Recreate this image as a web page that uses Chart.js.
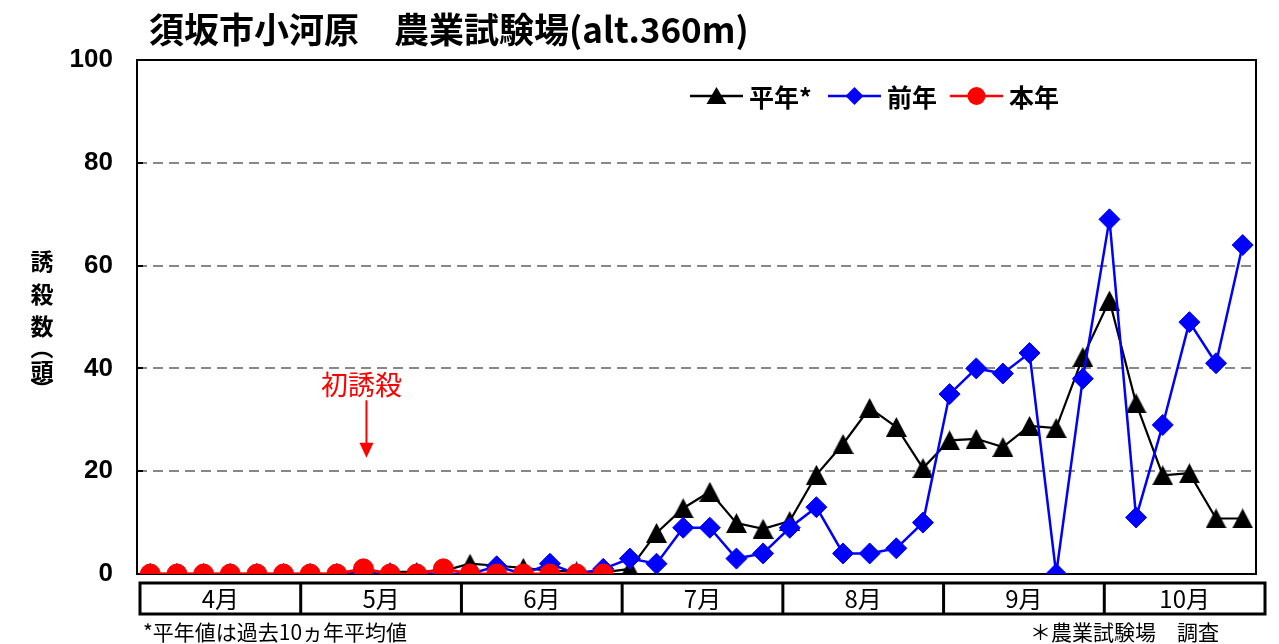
<!DOCTYPE html>
<html><head><meta charset="utf-8">
<script src="https://cdn.jsdelivr.net/npm/chart.js@4/dist/chart.umd.min.js"></script>
<style>html,body{margin:0;padding:0;background:#fff}#wrap{width:1279px;height:644px;position:relative}</style>
</head><body><div id="wrap"><canvas id="c"></canvas></div>
<script>
const titleText = '須坂市小河原　農業試験場(alt.360m)';
const yTitle = '誘殺数（頭）';
const months = ['4月','5月','6月','7月','8月','9月','10月'];
const categories = [
 '4月1半旬','4月2半旬','4月3半旬','4月4半旬','4月5半旬','4月6半旬',
 '5月1半旬','5月2半旬','5月3半旬','5月4半旬','5月5半旬','5月6半旬',
 '6月1半旬','6月2半旬','6月3半旬','6月4半旬','6月5半旬','6月6半旬',
 '7月1半旬','7月2半旬','7月3半旬','7月4半旬','7月5半旬','7月6半旬',
 '8月1半旬','8月2半旬','8月3半旬','8月4半旬','8月5半旬','8月6半旬',
 '9月1半旬','9月2半旬','9月3半旬','9月4半旬','9月5半旬','9月6半旬',
 '10月1半旬','10月2半旬','10月3半旬','10月4半旬','10月5半旬','10月6半旬'];
const yTicks = [0,20,40,60,80,100];
const seriesNames = ['平年*','前年','本年'];
const heinen = [0,0,0,0,0,0, 0,0,0.3,0.4,0.4,0.6, 2,1.6,1.2,0.6,0.5,0.3,
  1,8,12.8,16,9.9,8.8, 10.3,19.3,25.3,32.3,28.6,20.6,
  26,26.3,24.7,28.8,28.4,42.2, 53.2,33.2,19.2,19.6,10.8,10.8];
const zennen = [0,0,0,0,0,0, 0,0,0,0,0,0, 0,1.5,0,2,0,1,
  3,2,9,9,3,4, 9,13,4,4,5,10,
  35,40,39,43,0,38, 69,11,29,49,41,64];
const honnen = [0,0,0,0,0,0, 0,0,1,0,0,1, 0,0,0,0,0,0];
const firstCatchIndex = 8;
const firstCatchLabel = '初誘殺';
const footLeft = '*平年値は過去10ヵ年平均値';
const footRight = '＊農業試験場　調査';

const JP = '"Noto Sans CJK JP", "Noto Sans", sans-serif';

function triCanvas(w,h,color){
  const c=document.createElement('canvas'); c.width=w; c.height=h;
  const g=c.getContext('2d'); g.fillStyle=color; g.beginPath();
  g.moveTo(w/2,0); g.lineTo(w,h); g.lineTo(0,h); g.closePath(); g.fill(); return c;
}
const triImg = triCanvas(21,20,'#000');

const extras = {
  id:'extras',
  beforeDatasetsDraw(chart){
    const {ctx, chartArea:a, scales:{y}} = chart;
    ctx.save();
    ctx.strokeStyle='#000'; ctx.lineWidth=2;
    ctx.strokeRect(a.left, a.top, a.right-a.left, a.bottom-a.top);
    ctx.beginPath();
    yTicks.forEach(v=>{ const py=Math.round(y.getPixelForValue(v));
      ctx.moveTo(a.left, py); ctx.lineTo(a.left+6, py); });
    ctx.stroke();
    ctx.restore();
  },
  afterDraw(chart){
    const {ctx, chartArea:a, scales:{x,y}} = chart;
    ctx.save();
    // title
    ctx.fillStyle='#000'; ctx.textBaseline='middle'; ctx.textAlign='left';
    ctx.font='bold 35px '+JP;
    ctx.fillText(titleText, 149, 30);
    // y title vertical
    ctx.font='bold 23px '+JP; ctx.textAlign='center';
    const chars = Array.from(yTitle);
    const ys = [261,294,326,348,371,389];
    chars.forEach((ch,i)=>{
      if (ch==='（'||ch==='）'){
        ctx.save(); ctx.translate(42, ys[i]); ctx.rotate(Math.PI/2);
        ctx.fillText(ch,0,0); ctx.restore();
      } else ctx.fillText(ch, 42, ys[i]);
    });
    // legend
    const legY = 96;
    const items = [
      {x:690, color:'#000', shape:'tri', text:seriesNames[0]},
      {x:828, color:'#0000ff', shape:'dia', text:seriesNames[1]},
      {x:950, color:'#ff0000', shape:'cir', text:seriesNames[2]}];
    ctx.font='bold 25px '+JP; ctx.textAlign='left';
    items.forEach(it=>{
      ctx.strokeStyle=it.color; ctx.fillStyle=it.color; ctx.lineWidth=2.5;
      ctx.beginPath(); ctx.moveTo(it.x, legY); ctx.lineTo(it.x+53, legY); ctx.stroke();
      const cx = it.x+26.5;
      ctx.beginPath();
      if(it.shape==='tri'){ ctx.moveTo(cx,legY-9); ctx.lineTo(cx+10,legY+8); ctx.lineTo(cx-10,legY+8); }
      else if(it.shape==='dia'){ ctx.moveTo(cx,legY-9); ctx.lineTo(cx+9,legY); ctx.lineTo(cx,legY+9); ctx.lineTo(cx-9,legY); }
      else { ctx.arc(cx,legY,9,0,Math.PI*2); }
      ctx.closePath(); ctx.fill();
      ctx.fillStyle='#000'; ctx.fillText(it.text, it.x+59, legY+1);
    });
    // first catch annotation
    const px = x.getPixelForValue(firstCatchIndex);
    ctx.fillStyle='#ff0000'; ctx.strokeStyle='#ff0000';
    ctx.font='27px '+JP; ctx.textAlign='center';
    ctx.fillText(firstCatchLabel, px-2, y.getPixelForValue(36.9));
    const ax = px+3, aTop=y.getPixelForValue(33.8), aTip=y.getPixelForValue(22.6);
    ctx.lineWidth=2; ctx.beginPath(); ctx.moveTo(ax,aTop); ctx.lineTo(ax,aTip-10); ctx.stroke();
    ctx.beginPath(); ctx.moveTo(ax-7,aTip-15); ctx.lineTo(ax+7,aTip-15); ctx.lineTo(ax,aTip); ctx.closePath(); ctx.fill();
    // month table
    const TL = a.left+3, TR = a.right+9, TT=583, TB=614;
    const map = p => TL + (p - a.left)*(TR-TL)/(a.right-a.left);
    const step = x.getPixelForValue(1)-x.getPixelForValue(0);
    ctx.strokeStyle='#000'; ctx.lineWidth=3;
    ctx.strokeRect(TL, TT, TR-TL, TB-TT);
    ctx.fillStyle='#000'; ctx.font='24px '+JP; ctx.textAlign='center';
    months.forEach((m,i)=>{
      const l = map(x.getPixelForValue(i*6)-step/2);
      const r = map(x.getPixelForValue(i*6+5)+step/2);
      if(i>0){ ctx.beginPath(); ctx.moveTo(l,TT); ctx.lineTo(l,TB); ctx.stroke(); }
      ctx.fillText(m, (l+r)/2, 599);
    });
    // footnotes
    ctx.font='21px '+JP; ctx.textAlign='left';
    ctx.fillText(footLeft, 143, 632);
    ctx.fillText(footRight, 1030, 632);
    ctx.restore();
  }
};

new Chart(document.getElementById('c'), {
  type:'line',
  data:{ labels: categories, datasets:[
    {label:seriesNames[2], data:honnen, borderColor:'#ff0000', backgroundColor:'#ff0000',
     borderWidth:3, pointStyle:'circle', pointRadius:10, pointBorderWidth:1, order:0},
    {label:seriesNames[1], data:zennen, borderColor:'#0000ff', backgroundColor:'#0000ff',
     borderWidth:2.5, pointStyle:'rectRot', pointRadius:10.5, pointBorderWidth:1, order:1},
    {label:seriesNames[0], data:heinen, borderColor:'#000', backgroundColor:'#000',
     borderWidth:2.2, pointStyle:triImg, pointRadius:11, order:2}
  ]},
  options:{
    responsive:true, maintainAspectRatio:false, animation:false,
    layout:{padding:{top:60,right:23,left:0,bottom:0}},
    plugins:{legend:{display:false}, tooltip:{enabled:false}, title:{display:false}},
    elements:{line:{tension:0}},
    scales:{
      x:{offset:true, ticks:{display:false}, grid:{display:false}, border:{display:false},
         afterFit(s){ s.height=70; }},
      y:{min:0,max:100, afterFit(s){ s.width=137; },
         afterBuildTicks(s){ s.ticks = yTicks.map(v=>({value:v})); },
         ticks:{padding:24, color:'#000', font:{family:'"Liberation Sans", Arial, sans-serif', size:26, weight:'bold'}},
         grid:{drawTicks:false, lineWidth:2,
               color:c=> (c.tick && (c.tick.value===0||c.tick.value===100)) ? 'rgba(0,0,0,0)' : '#888'},
         border:{display:false, dash:[10,6]}}
    }
  },
  plugins:[extras]
});
</script></body></html>
